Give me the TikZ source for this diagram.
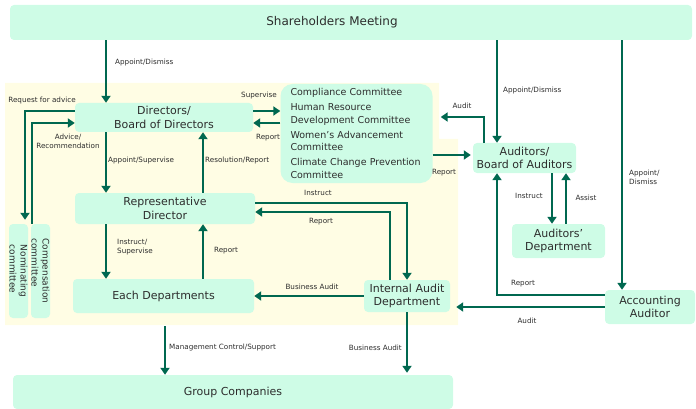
\documentclass[tikz,border=0pt]{standalone}
\usepackage{fontspec}
\setmainfont{DejaVu Sans}
\usetikzlibrary{arrows.meta}

\definecolor{mint}{RGB}{206,252,230}
\definecolor{paleyellow}{RGB}{255,253,228}
\definecolor{flowgreen}{RGB}{0,104,80}
\definecolor{inkgray}{RGB}{45,45,45}

\begin{document}
\begin{tikzpicture}[
    x=1pt, y=-1pt,
    box/.style={fill=mint, rounded corners=4pt, align=center, text=inkgray, inner sep=2pt, font=\fontsize{11}{13.5}\selectfont},
    sidebox/.style={box, rotate=-90, inner sep=0pt, minimum width=94pt, minimum height=19pt, align=left, font=\fontsize{9}{11}\selectfont},
    cmtebox/.style={box, rounded corners=12pt, align=left, text width=132pt, inner xsep=10pt, font=\fontsize{9.5}{12.8}\selectfont},
    lbl/.style={font=\fontsize{7.2}{9}\selectfont, text=inkgray, inner sep=0pt},
    arrow/.style={-{Triangle[width=9pt,length=7pt]}, line width=2.8pt, flowgreen}
]
    \useasboundingbox (0,0) rectangle (696,409);

    % Board side of the company
    \fill[paleyellow] (5,83) -- (439,83) -- (439,139) -- (458,139) -- (458,325) -- (5,325) -- cycle;

    % Organs
    \node[box, minimum width=682pt, minimum height=35pt] (share) at (351,22.5) {};
    \node[text=inkgray, font=\fontsize{12}{14}\selectfont] (shareT) at (332,22) {Shareholders Meeting};
    \node[box, minimum width=178pt, minimum height=29pt] (board) at (164,117.5) {Directors/\\Board of Directors};
    \node[cmtebox, minimum width=151pt, minimum height=99pt] (cmte) at (356.5,133.5) {Compliance Committee\\[2pt]Human Resource\\Development Committee\\[2pt]Women's Advancement\\Committee\\[2pt]Climate Change Prevention\\Committee};
    \node[box, minimum width=103pt, minimum height=30pt] (auditors) at (524.5,158) {Auditors/\\Board of Auditors};
    \node[box, minimum width=93pt, minimum height=34pt] (auddept) at (558.5,241) {Auditors'\\Department};
    \node[box, minimum width=180pt, minimum height=31pt] (rep) at (165,208.5) {Representative\\Director};
    \node[box, minimum width=181pt, minimum height=34pt] (depts) at (163.5,296) {Each Departments};
    \node[box, minimum width=86pt, minimum height=32pt] (iaudit) at (407,296) {Internal Audit\\Department};
    \node[box, minimum width=90pt, minimum height=34pt] (accaud) at (650,307) {Accounting\\Auditor};
    \node[box, minimum width=440pt, minimum height=34pt] (group) at (233,392) {Group Companies};
    \node[sidebox] (nomin) at (18.5,271) {Nominating\\committee};
    \node[sidebox] (comp) at (40.5,271) {Compensation\\committee};

    % Columns and rows the connectors run along
    \coordinate (colN) at (25,0);
    \coordinate (colM) at (32,0);
    \coordinate (colA) at (106,0);
    \coordinate (colG) at (165,0);
    \coordinate (colB) at (203,0);
    \coordinate (colJ) at (390,0);
    \coordinate (colI) at (407,0);
    \coordinate (colL) at (484,0);
    \coordinate (colC) at (497,0);
    \coordinate (colP) at (552,0);
    \coordinate (colQ) at (566,0);
    \coordinate (colD) at (622,0);
    \coordinate (rowS) at (0,111);
    \coordinate (rowL) at (0,117);
    \coordinate (rowR) at (0,123);
    \coordinate (rowK) at (0,155);
    \coordinate (rowI) at (0,203);
    \coordinate (rowJ) at (0,212);
    \coordinate (rowM) at (0,295);
    \coordinate (rowN) at (0,307);

    % Shareholders appoint
    \draw[arrow] (share.south -| colA) -- (board.north -| colA);
    \draw[arrow] (share.south -| colC) -- (auditors.north -| colC);
    \draw[arrow] (share.south -| colD) -- (accaud.north -| colD);
    \node[lbl, anchor=west] (l1) at (115,63) {Appoint/Dismiss};
    \node[lbl, anchor=west] (l2) at (503,91) {Appoint/Dismiss};
    \node[lbl, anchor=west, align=left] (l3) at (629,177) {Appoint/\\Dismiss};

    % Advisory committees
    \draw[arrow, shorten >=4pt] (board.west |- rowS) -| (nomin.west -| colN);
    \draw[arrow] (comp.west -| colM) |- (board.west |- rowR);
    \node[lbl] (l4) at (42,101) {Request for advice};
    \node[lbl, align=center] (l5) at (68,141) {Advice/\\Recommendation};

    % Board and committees
    \draw[arrow] (board.east |- rowS) -- (cmte.west |- rowS);
    \draw[arrow] (cmte.west |- rowR) -- (board.east |- rowR);
    \node[lbl] (l6) at (259,96) {Supervise};
    \node[lbl] (l7) at (268,138) {Report};

    % Execution line
    \draw[arrow] (board.south -| colA) -- (rep.north -| colA);
    \draw[arrow] (rep.north -| colB) -- (board.south -| colB);
    \draw[arrow] (rep.south -| colA) -- (depts.north -| colA);
    \draw[arrow] (depts.north -| colB) -- (rep.south -| colB);
    \node[lbl, anchor=west] (l8) at (108,161) {Appoint/Supervise};
    \node[lbl, anchor=west] (l9) at (205,161) {Resolution/Report};
    \node[lbl, anchor=west, align=left] (l10) at (117,247) {Instruct/\\Supervise};
    \node[lbl] (l11) at (226,251) {Report};

    % Internal audit
    \draw[arrow] (rep.east |- rowI) -| (iaudit.north -| colI);
    \draw[arrow] (iaudit.north -| colJ) |- (rep.east |- rowJ);
    \draw[arrow] (iaudit.west) -- (depts.east |- iaudit.west);
    \node[lbl] (l12) at (318,193) {Instruct};
    \node[lbl] (l13) at (321,222) {Report};
    \node[lbl] (l14) at (312,287) {Business Audit};

    % Group companies
    \draw[arrow, shorten <=13pt] (depts.south -| colG) -- (group.north -| colG);
    \draw[arrow, shorten >=2pt] (iaudit.south -| colI) -- (group.north -| colI);
    \node[lbl, anchor=west] (l15) at (169,348) {Management Control/Support};
    \node[lbl, anchor=east] (l16) at (402,348) {Business Audit};

    % Auditors
    \draw[arrow, shorten >=2pt] (cmte.east |- rowK) -- (auditors.west |- rowK);
    \draw[arrow, shorten >=8pt] (auditors.north -| colL) |- (cmte.east |- rowL);
    \draw[arrow] (auditors.south -| colP) -- (auddept.north -| colP);
    \draw[arrow] (auddept.north -| colQ) -- (auditors.south -| colQ);
    \node[lbl] (l17) at (462,106) {Audit};
    \node[lbl] (l18) at (444,173) {Report};
    \node[lbl] (l19) at (529,196) {Instruct};
    \node[lbl] (l20) at (586,198) {Assist};

    % Accounting auditor
    \draw[arrow] (accaud.west |- rowM) -| (auditors.south -| colC);
    \draw[arrow, shorten >=6pt] (accaud.west |- rowN) -- (iaudit.east |- rowN);
    \node[lbl] (l21) at (523,284) {Report};
    \node[lbl] (l22) at (527,321) {Audit};
\end{tikzpicture}
\end{document}
